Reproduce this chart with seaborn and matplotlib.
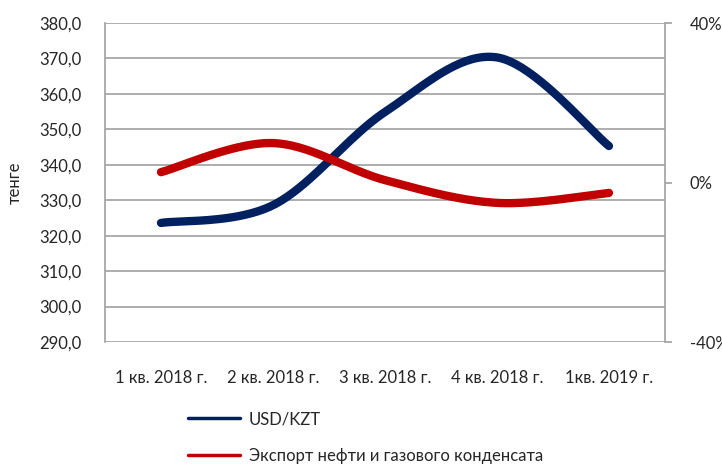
import numpy as np
import pandas as pd
import matplotlib
matplotlib.use("Agg")
import matplotlib.pyplot as plt
import seaborn as sns
from matplotlib.ticker import FuncFormatter, MultipleLocator

# data
quarters = ["1 кв. 2018 г.", "2 кв. 2018 г.", "3 кв. 2018 г.", "4 кв. 2018 г.", "1кв. 2019 г."]
usd_kzt = [323.6, 328.6, 354.9, 370.3, 345.3]
oil_export = [2.6, 9.9, 0.6, -5.1, -2.6]  # % change, right axis

BLUE = "#002060"
RED = "#C00000"
GRID = "#A0A0A0"


def smooth(values, n=40):
    """Excel-like smoothed line: Bezier segments through the points (Catmull-Rom tangents)."""
    pts = np.column_stack([np.arange(len(values), dtype=float), np.asarray(values, dtype=float)])
    padded = np.vstack([pts[0], pts, pts[-1]])
    out = []
    for i in range(len(pts) - 1):
        p0, p1, p2, p3 = padded[i], padded[i + 1], padded[i + 2], padded[i + 3]
        c1 = p1 + (p2 - p0) / 6
        c2 = p2 - (p3 - p1) / 6
        t = np.linspace(0, 1, n)[:, None]
        seg = (1 - t) ** 3 * p1 + 3 * (1 - t) ** 2 * t * c1 + 3 * (1 - t) * t ** 2 * c2 + t ** 3 * p2
        out.append(seg if i == 0 else seg[1:])
    seg = np.vstack(out)
    return pd.DataFrame({"x": seg[:, 0], "y": seg[:, 1]})


sns.set_style("white")
plt.rcParams["font.family"] = ["Lato", "DejaVu Sans"]
plt.rcParams["font.size"] = 12

fig, ax = plt.subplots(figsize=(7.22, 4.66), dpi=100)
fig.subplots_adjust(left=0.1454, right=0.921, top=0.9506, bottom=0.266)
ax2 = ax.twinx()

blue_df = smooth(usd_kzt)
red_df = smooth(oil_export)
sns.lineplot(data=blue_df, x="x", y="y", ax=ax, color=BLUE, linewidth=6,
             solid_capstyle="round", sort=False, label="USD/KZT", legend=False)
sns.lineplot(data=red_df, x="x", y="y", ax=ax2, color=RED, linewidth=6,
             solid_capstyle="round", sort=False, label="Экспорт нефти и газового конденсата", legend=False)

# left axis
ax.set_ylim(290, 380)
ax.yaxis.set_major_locator(MultipleLocator(10))
ax.yaxis.set_major_formatter(FuncFormatter(lambda v, p: f"{v:.1f}".replace(".", ",")))
ax.set_ylabel("тенге", fontsize=12, labelpad=12)
ax.grid(axis="y", color=GRID, linewidth=1.2)
ax.set_axisbelow(True)

# categories
ax.set_xlim(-0.5, len(quarters) - 0.5)
ax.set_xticks(range(len(quarters)))
ax.set_xticklabels(quarters)
ax.tick_params(axis="x", length=0, pad=20)
ax.tick_params(axis="y", length=0, pad=17)
ax.set_xlabel("")

# right axis
ax2.set_ylim(-40, 40)
ax2.yaxis.set_major_locator(MultipleLocator(40))
ax2.yaxis.set_major_formatter(FuncFormatter(lambda v, p: f"{v:.0f}%"))
ax2.tick_params(axis="y", length=5, width=1.2, color=GRID, pad=13)
ax2.set_ylabel("")

for a in (ax, ax2):
    for side in ("top", "bottom"):
        a.spines[side].set_visible(False)
    a.spines["left"].set_color(GRID)
    a.spines["right"].set_color(GRID)
    a.spines["left"].set_linewidth(1.2)
    a.spines["right"].set_linewidth(1.2)
ax2.spines["left"].set_visible(False)
ax.spines["right"].set_visible(False)

handles = ax.get_lines()[:1] + ax2.get_lines()[:1]
leg = fig.legend(handles, [h.get_label() for h in handles], loc="upper left",
                 bbox_to_anchor=(0.2604, 0.118), frameon=False, handlelength=3.1,
                 handletextpad=0.55, labelspacing=1.25, borderpad=0, borderaxespad=0,
                 fontsize=12)
for line in leg.get_lines():
    line.set_linewidth(2.5)

fig.savefig("out.png", dpi=100)
